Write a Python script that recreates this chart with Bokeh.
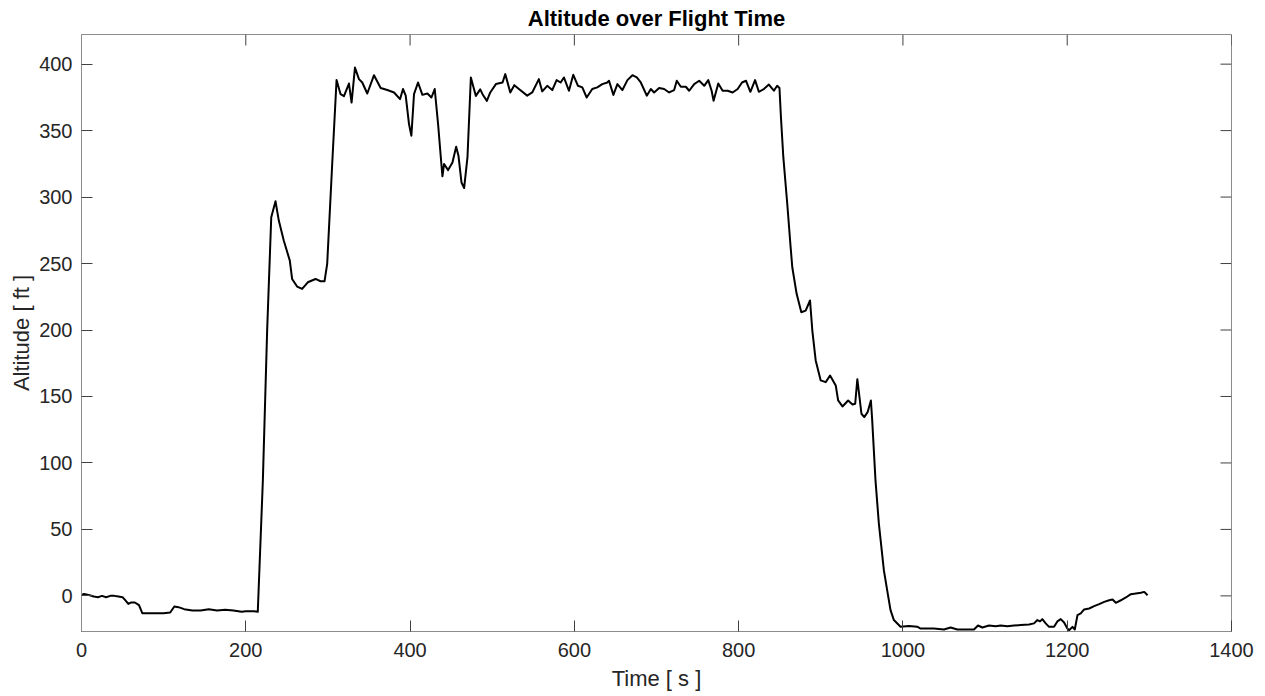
from bokeh.plotting import figure
from bokeh.models import Range1d, FixedTicker
from bokeh.embed import file_html
from bokeh.resources import INLINE

time_s = [0, 3, 10, 15, 20, 25, 30, 35, 40, 45, 50, 53, 57, 60, 65, 70, 74, 80, 90, 100,
          108, 113, 118, 125, 135, 145, 155, 165, 175, 185, 195, 200, 210, 214.6,
          220.8, 226, 231, 236.2, 240.2, 246.3, 253.6, 256.4, 262.5, 268.6, 275.5, 284.9,
          291, 295.9, 299.1, 305.2, 310.5, 315.4, 319.5, 325.6, 328.8, 332.9, 337.8, 341.8,
          347.9, 356.1, 364.2, 372.3, 380.5, 387.8, 391.4, 394.7, 398.7, 401.6, 404.8, 409.7,
          415, 421.1, 426, 430, 434.1, 438.1, 439.4, 441.4, 446.3, 451.6, 456.1, 458.9, 462.6,
          465.8, 469.9, 474, 480.1, 485.4, 488.2, 493.5, 497.6, 504.5, 512.6, 515.9, 522,
          526.9, 532.5, 542.6, 548.7, 556.8, 560.9, 567, 573.1, 578.4, 583.3, 587.3, 593.4,
          598.7, 604.4, 609.7, 615, 621.8, 627.9, 634, 640.1, 642.2, 647.5, 652.4, 658.5,
          664.6, 670.7, 676, 680.9, 688.2, 693.1, 697.1, 703.2, 709.3, 715.4, 721.5, 724.7,
          729.6, 735.7, 739.8, 745.9, 752, 758.1, 763, 767.1, 769.5, 775.2, 780.5, 786.6,
          792.7, 798.8, 804.1, 809, 814.3, 820, 824.6, 830.7, 836.8, 842.9, 846.9, 849.7,
          851.5, 854.4, 859.2, 863.3, 865.3, 870.6, 876.3, 881.6, 886.9, 889.7, 893.8, 899.9,
          906, 911.3, 918.2, 921.1, 926.4, 933.3, 938.6, 941.9, 944.5, 949.5, 952.9, 957,
          961, 962.6, 966.6, 970.7, 976.8, 980.8, 984.9, 989, 997.1, 1007.3, 1017.4, 1021.5,
          1037.7, 1049.9, 1058, 1066.2, 1078.4, 1086.5, 1091.4, 1096.7, 1104.8, 1112.9, 1119,
          1127.1, 1135.3, 1143.4, 1153.5, 1159.6, 1163.7, 1166.9, 1169.7, 1173.8, 1177.9, 1184,
          1188, 1192.1, 1196.2, 1200.2, 1202.3, 1206.4, 1209.2, 1212.5, 1216.5, 1220.6, 1226.7,
          1232.8, 1238.9, 1245, 1251.1, 1255.2, 1259.2, 1265.3, 1271.4, 1277.5, 1283.6, 1289.7,
          1293.8, 1297.8]

altitude_ft = [0.5, 1.5, 0.5, -0.5, -1, 0, -1, 0, 0, -0.5, -1, -3, -6, -5, -5, -7, -13, -13, -13, -13,
               -12.5, -8, -8.5, -10, -11, -11, -10, -11, -10.5, -11, -12, -11.5, -11.5, -12,
               87, 199.6, 284.8, 296.8, 282.3, 267.2, 252.2, 238.4, 232.7, 230.9, 235.9, 238.4,
               236.7, 236.7, 249.7, 324.9, 388, 377.4, 375.9, 385.4, 371.1, 397.4, 388.7, 386.2,
               377.9, 391.7, 382, 380.5, 378.7, 373.7, 381.3, 376.3, 354.9, 346.1, 377.4, 386.2,
               376.9, 377.9, 374.9, 381.3, 354.9, 324.9, 315.6, 324.9, 320.3, 326, 337.9, 331.1, 311,
               306.8, 330.1, 389.9, 376.1, 381, 377.4, 372.4, 378.7, 385, 386.2, 392.5, 378.7,
               384.2, 381.3, 376.3, 378.7, 388.7, 379.5, 383.7, 380.5, 388, 386.2, 390, 380,
               392, 383.7, 382.5, 374.9, 381.3, 382.5, 385, 386.2, 387.5, 376.9, 385, 380.5,
               388, 391.7, 390, 386.2, 376.3, 381.3, 378.7, 382, 381.3, 378.7, 380.5, 387.5,
               383, 383, 380, 385, 387.5, 383.7, 388, 380, 372.4, 385.4, 380, 380,
               378.7, 381.3, 386.2, 387.5, 379.2, 388, 379.2, 381.3, 384.6, 380, 383.7, 382,
               360, 330, 294.8, 262.2, 247.2, 227.2, 213.4, 214.6, 222.2, 199.6, 177.1, 162.1,
               160.8, 165.8, 158.3, 147, 142.5, 147, 144, 144.5, 163, 137, 134.5, 138.2,
               147, 132, 86.9, 54.4, 19.3, 4.3, -10.7, -18.2, -23.2, -22.7, -23.2, -24.6,
               -24.6, -25.3, -23.8, -25.3, -25.3, -25.3, -22.3, -23.8, -22.3, -22.8, -22.3,
               -22.8, -22.3, -22, -21.5, -20.7, -18.2, -19.2, -17.5, -20.7, -23.3, -23.3,
               -19.2, -17.5, -20, -24.6, -25.8, -23.3, -25.3, -14.5, -13.2, -10.2, -9.5,
               -7.7, -6.2, -4.5, -3.3, -2.7, -5.2, -3.3, -1.2, 1.3, 1.8, 2.3,
               3, 0.5]

x_ticks = [0, 200, 400, 600, 800, 1000, 1200, 1400]
y_ticks = [0, 50, 100, 150, 200, 250, 300, 350, 400]

FONT = "Liberation Sans"
TXT = "#262626"
BOX = "#8c8c8c"
TICK = "#404040"

W, H = 1265, 696
ML, MR, MT, MB = 81, 34, 34, 65
X0, X1 = 0, 1400
Y0, Y1 = -26.8, 422.3
TICK_PX = 11

p = figure(width=W, height=H, output_backend="svg", toolbar_location=None,
           x_range=Range1d(X0, X1), y_range=Range1d(Y0, Y1),
           min_border_left=ML, min_border_right=MR, min_border_top=MT, min_border_bottom=MB,
           title="Altitude over Flight Time")

p.title.align = "center"
p.title.text_font = FONT
p.title.text_font_size = "22px"
p.title.text_font_style = "bold"
p.title.text_color = "#000000"
p.title.standoff = 7

p.grid.visible = False
p.outline_line_color = BOX
p.outline_line_width = 1
p.background_fill_color = "white"
p.border_fill_color = "white"

p.line(time_s, altitude_ft, line_color="black", line_width=2, line_join="round")

p.xaxis.ticker = FixedTicker(ticks=x_ticks)
p.yaxis.ticker = FixedTicker(ticks=y_ticks)
p.xaxis.axis_label = "Time [ s ]"
p.yaxis.axis_label = "Altitude [ ft ]"

for ax in (p.xaxis[0], p.yaxis[0]):
    ax.axis_line_color = BOX
    ax.major_tick_in = TICK_PX
    ax.major_tick_out = 0
    ax.minor_tick_line_color = None
    ax.major_tick_line_color = TICK
    ax.major_label_text_font = FONT
    ax.major_label_text_font_size = "20px"
    ax.major_label_text_color = TXT
    ax.axis_label_text_font = FONT
    ax.axis_label_text_font_size = "22px"
    ax.axis_label_text_font_style = "normal"
    ax.axis_label_text_color = TXT

p.xaxis.major_label_standoff = 11
p.xaxis.axis_label_standoff = 6
p.yaxis.major_label_standoff = 9
p.yaxis.axis_label_standoff = 2

# inward tick marks on the top and right edges of the box (MATLAB "box on")
fw = W - ML - MR
fh = H - MT - MB
dx = TICK_PX * (X1 - X0) / fw
dy = TICK_PX * (Y1 - Y0) / fh
p.segment(x0=x_ticks, y0=[Y1] * len(x_ticks), x1=x_ticks, y1=[Y1 - dy] * len(x_ticks),
          line_color=TICK, line_width=1)
p.segment(x0=[X1] * len(y_ticks), y0=y_ticks, x1=[X1 - dx] * len(y_ticks), y1=y_ticks,
          line_color=TICK, line_width=1)

open("out.html", "w").write(file_html(p, INLINE))
